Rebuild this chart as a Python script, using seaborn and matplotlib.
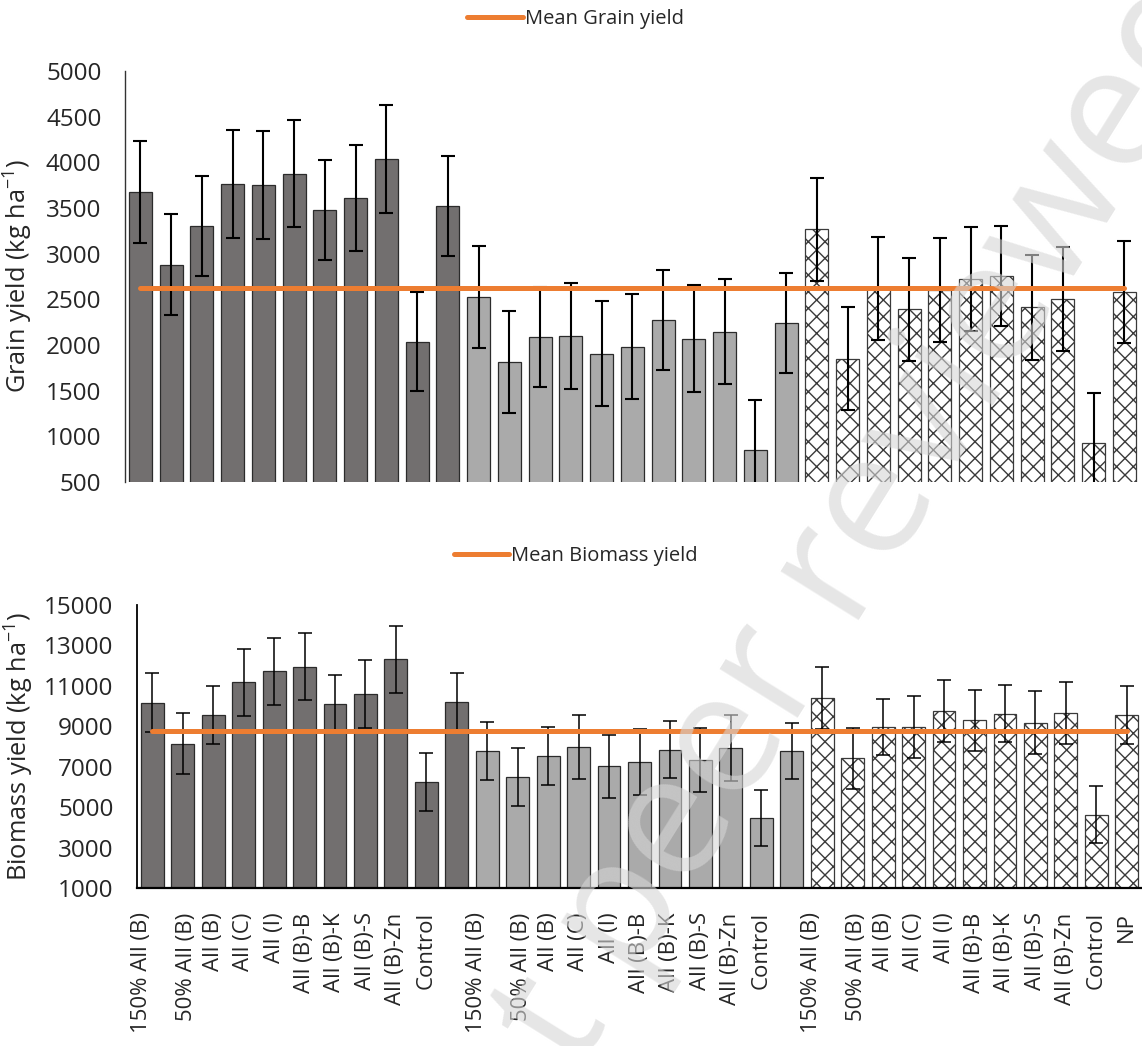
import matplotlib
matplotlib.use("Agg")
import matplotlib.pyplot as plt
import matplotlib.transforms as mtransforms
import numpy as np
import pandas as pd
import seaborn as sns

# treatment labels (11 per group, NP label only shown on the last group)
treatments = ['150% All (B)', '50% All (B)', 'All (B)', 'All (C)', 'All (I)',
              'All (B)-B', 'All (B)-K', 'All (B)-S', 'All (B)-Zn', 'Control', 'NP']
groups = ['G1', 'G2', 'G3']

# grain yield (kg/ha) and error
grain_g1 = [3676, 2879, 3305, 3764, 3753, 3877, 3481, 3610, 4038, 2037, 3522]
grain_g2 = [2527, 1817, 2088, 2099, 1905, 1982, 2271, 2071, 2144, 852, 2238]
grain_g3 = [3268, 1850, 2620, 2389, 2600, 2722, 2758, 2411, 2505, 925, 2582]
grain_err_g1 = [560, 555, 550, 590, 590, 590, 550, 585, 590, 545, 550]
grain_err_g2 = [555, 560, 547, 580, 578, 578, 546, 585, 575, 550, 547]
grain_err_g3 = [562, 564, 560, 567, 567, 570, 550, 572, 570, 551, 555]

# biomass yield (kg/ha) and error
bio_g1 = [10161, 8142, 9546, 11168, 11714, 11945, 10111, 10589, 12309, 6241, 10190]
bio_g2 = [7780, 6471, 7532, 7978, 7017, 7233, 7826, 7329, 7926, 4457, 7780]
bio_g3 = [10405, 7415, 8970, 8951, 9745, 9299, 9630, 9184, 9645, 4621, 9561]
bio_err_g1 = [1460, 1490, 1440, 1670, 1670, 1650, 1420, 1670, 1650, 1440, 1440]
bio_err_g2 = [1450, 1440, 1420, 1600, 1570, 1620, 1410, 1600, 1620, 1400, 1400]
bio_err_g3 = [1520, 1500, 1400, 1540, 1520, 1520, 1400, 1540, 1540, 1420, 1420]

grain_ticks = list(range(500, 5001, 500))
bio_ticks = list(range(1000, 15001, 2000))

n = len(treatments)
df = pd.DataFrame({
    'pos': list(range(3 * n)),
    'group': [g for g in groups for _ in range(n)],
    'grain': grain_g1 + grain_g2 + grain_g3,
    'grain_err': grain_err_g1 + grain_err_g2 + grain_err_g3,
    'bio': bio_g1 + bio_g2 + bio_g3,
    'bio_err': bio_err_g1 + bio_err_g2 + bio_err_g3,
})
xlabels = treatments[:-1] + [''] + treatments[:-1] + [''] + treatments

sns.set_style("white")
plt.rcParams['font.family'] = ['Open Sans', 'DejaVu Sans']
plt.rcParams['mathtext.fontset'] = 'custom'
plt.rcParams['mathtext.rm'] = 'Open Sans'
plt.rcParams['mathtext.default'] = 'regular'
plt.rcParams['hatch.linewidth'] = 1.0

palette = {'G1': '#736f6e', 'G2': '#aaaaaa', 'G3': '#ffffff'}
orange = '#ED7D31'

fig = plt.figure(figsize=(11.42, 10.46), dpi=100)
ax1 = fig.add_axes([0.1095, 0.5392, 0.8885, 0.3929])
ax2 = fig.add_axes([0.1200, 0.1511, 0.8800, 0.2705])


def draw_panel(ax, col, errcol, ylim, ticks, ylabel, legend_label, elw):
    sns.barplot(data=df, x='pos', y=col, hue='group', palette=palette,
                dodge=False, width=0.75, legend=False, ax=ax,
                edgecolor='#2b2b2b', linewidth=0.9)
    for p in ax.containers[2]:
        p.set_hatch('xx')
        p.set_edgecolor('#3a3a3a')
    ax.errorbar(df['pos'], df[col], yerr=df[errcol], fmt='none',
                ecolor='black', elinewidth=elw, capsize=4.7, capthick=elw,
                zorder=3)
    m = np.mean(df[col])
    sns.lineplot(x=df['pos'], y=[m] * len(df), color=orange, linewidth=3.6,
                 label=legend_label, ax=ax, zorder=4)
    ax.set_xlim(-0.5, 3 * n - 0.5)
    ax.set_ylim(*ylim)
    ax.set_yticks(ticks)
    ax.tick_params(axis='y', length=0, pad=17, labelsize=17.5)
    ax.set_ylabel(ylabel, fontsize=18.3)
    ax.set_xlabel('')
    for s in ['top', 'right']:
        ax.spines[s].set_visible(False)
    ax.spines['left'].set_color('#333333')
    ax.spines['left'].set_linewidth(1.0)


draw_panel(ax1, 'grain', 'grain_err', (500, 5000), grain_ticks,
           'Grain yield (kg ha$^{-1}$)', 'Mean Grain yield', 1.5)
draw_panel(ax2, 'bio', 'bio_err', (1000, 15000), bio_ticks,
           'Biomass yield (kg ha$^{-1}$)', 'Mean Biomass yield', 1.1)

ax1.spines['bottom'].set_visible(False)
ax1.set_xticks([])
ax1.yaxis.set_label_coords(-0.0887, 0.5)

ax2.spines['bottom'].set_color('black')
ax2.spines['bottom'].set_linewidth(1.6)
ax2.spines['left'].set_color('black')
ax2.spines['left'].set_linewidth(1.3)
ax2.set_xticks(range(3 * n))
ax2.set_xticklabels(xlabels, rotation=90, fontsize=16, va='top', ha='center')
ax2.tick_params(axis='x', length=0, pad=17.5)
ax2.yaxis.set_label_coords(-0.1005, 0.5)
for lab in ax2.get_xticklabels():
    t = lab.get_text()
    if t == '150% All (B)':
        dx = -11
    elif t == '50% All (B)':
        dx = 4
    else:
        continue
    lab.set_transform(lab.get_transform() +
                      mtransforms.ScaledTranslation(dx / 100, 0, fig.dpi_scale_trans))

for ax, y in [(ax1, 0.982), (ax2, 0.468)]:
    ax.legend(loc='center', bbox_to_anchor=(0.504, y), bbox_transform=fig.transFigure,
              frameon=False, fontsize=14.5, handlelength=2.75, handletextpad=0.1,
              borderaxespad=0)

# faint watermark
fig.text(0.707, 0.409, 'Not peer reviewed', rotation=58, fontsize=124,
         color='#d6d6d6', alpha=0.6, ha='center', va='center',
         rotation_mode='anchor', zorder=20)

fig.savefig('out.png', dpi=100)
